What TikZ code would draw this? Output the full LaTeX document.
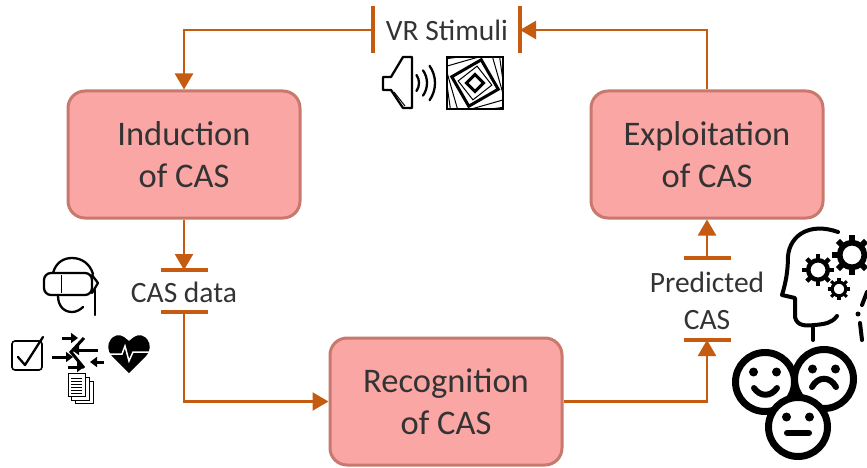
\documentclass[tikz,border=0pt]{standalone}
\usepackage{fontspec}
\setmainfont{Carlito}
\usetikzlibrary{arrows.meta}
\definecolor{boxfill}{HTML}{FAA6A5}
\definecolor{boxline}{HTML}{C8786C}
\definecolor{linkcol}{HTML}{C55A11}
\definecolor{textcol}{HTML}{333333}
\tikzset{
    casbox/.style={draw=boxline, line width=3pt, fill=boxfill, rounded corners=17pt, minimum width=232pt, minimum height=127pt, align=center, text=textcol, font=\fontsize{34.5}{42}\selectfont, inner sep=0pt},
    label/.style={text=textcol, font=\fontsize{29.5}{37}\selectfont, align=center, inner sep=0pt},
    hbar/.style={fill=linkcol, minimum width=47pt, minimum height=3.5pt, inner sep=0pt},
    vbar/.style={fill=linkcol, minimum width=3.5pt, minimum height=47pt, inner sep=0pt},
    link/.style={draw=linkcol, line width=2.5pt},
    arrowlink/.style={link, -{Triangle[length=16pt,width=18pt]}},
    icon/.style={line width=2.3pt, line cap=round, line join=round},
    small arrow/.style={line width=3pt, -{Triangle[length=7pt,width=10pt]}}
}
\newcommand{\gearicon}[3]{% x, y, radius
    \foreach \a in {0,45,...,315} {
        \draw[line width=#3*0.3pt] (#1,#2) ++(\a:#3*0.75) -- ++(\a:#3*0.3);
    }
    \draw[line width=#3*0.3pt] (#1,#2) circle (#3*0.65);
}
\newcommand{\faceicon}[2]{% x, y
    \draw[line width=7pt, fill=white] (#1,#2) circle (29.5);
    \fill (#1-11.5,#2-10) circle (4.5);
    \fill (#1+11.5,#2-10) circle (4.5);
}
\begin{document}
\begin{tikzpicture}[x=1pt,y=-1pt]
    \useasboundingbox (0,0) rectangle (867,468);

    % main boxes
    \node[casbox] (induction) at (184,154.5) {Induction\\of CAS};
    \node[casbox] (exploitation) at (707,154.5) {Exploitation\\of CAS};
    \node[casbox] (recognition) at (446,401.5) {Recognition\\of CAS};

    % labels and their bars
    \node[label] (vrstimuli) at (447,30) {VR Stimuli};
    \node[vbar] (vrbarleft) at (373,30) {};
    \node[vbar] (vrbarright) at (520,30) {};
    \node[label] (casdata) at (184,292) {CAS data};
    \node[hbar] (casbartop) at (184,270) {};
    \node[hbar] (casbarbottom) at (184,312) {};
    \node[label] (predicted) at (707,301) {Predicted\\CAS};
    \node[hbar] (predbartop) at (707,258) {};
    \node[hbar] (predbarbottom) at (707,340) {};

    % connectors
    \draw[arrowlink] (vrbarleft.center) -| (induction.north);
    \draw[arrowlink] (exploitation.north) |- (vrbarright.center);
    \draw[arrowlink] (induction.south) -- (casbartop.center);
    \draw[arrowlink] (casbarbottom.center) |- (recognition.west);
    \draw[arrowlink] (recognition.east) -| (predbarbottom.center);
    \draw[arrowlink] (predbartop.center) -- (exploitation.south);

    % speaker
    \draw[icon] (391,77) -- (383,77) -- (383,90) -- (391,90) -- (403,108) -- (412,108) -- (412,57) -- (403,57) -- cycle;
    \draw[line width=1pt] (394,92) -- (405,106);
    \foreach \r in {14,22,30} {
        \draw[icon] (405,83) ++(-35:\r) arc (-35:35:\r);
    }

    % nested squares
    \begin{scope}
        \clip (447,57) rectangle (503,109);
        \draw[line width=1pt, rotate around={8:(475,83)}] (447,55) rectangle (503,111);
        \draw[line width=1pt, rotate around={16:(475,83)}] (451,59) rectangle (499,107);
    \end{scope}
    \draw[line width=2.8pt] (447,57) rectangle (503,109);
    \draw[line width=3pt, rotate around={30:(475,83)}] (458,66) rectangle (492,100);
    \draw[line width=1pt, rotate around={38:(475,83)}] (463,71) rectangle (487,95);
    \draw[line width=3pt, rotate around={45:(475,83)}] (469,77) rectangle (481,89);

    % headset
    \draw[icon] (53,273) .. controls (56,262) and (64,258) .. (72,258) .. controls (82,258) and (90,264) .. (93,274);
    \draw[icon, rounded corners=7pt] (44,273) -- (92,273) -- (92,295) -- (44,295) -- cycle;
    \draw[icon] (92,275) -- (98,283) -- (92,293);
    \draw[line width=1pt] (61,275) -- (61,293);
    \draw[icon] (95,290) -- (95,315);
    \draw[icon] (58,296) .. controls (58,306) and (64,312) .. (72,312) .. controls (76,312) and (80,310) .. (83,307);

    % checkbox
    \draw[line width=1.6pt, rounded corners=3pt] (12,341) rectangle (42,370);
    \draw[icon] (18,357) -- (25,365) -- (43,337);

    % arrows
    \draw[small arrow] (62,338) -- (78,338);
    \draw[small arrow] (98,350) -- (72,350);
    \draw[small arrow] (52,357) -- (73,357);
    \draw[small arrow] (104,362) -- (90,362);
    \draw[small arrow] (68,367) -- (84,367);
    \draw[line width=3pt] (84,338) -- (71,352) -- (84,368);

    % heart
    \fill (129,373) -- (112,356) .. controls (102,345) and (114,330) .. (124,337) -- (129,341) -- (134,337) .. controls (144,330) and (156,345) .. (146,356) -- cycle;
    \draw[white, line width=1.5pt] (108,354) -- (122,354) -- (125,346) -- (129,361) -- (133,352) -- (150,352);

    % documents
    \draw[line width=0.8pt, fill=white] (75,381) rectangle (93,403);
    \draw[line width=0.8pt, fill=white] (71,377) rectangle (89,400);
    \draw[line width=0.8pt, fill=white] (68,373) rectangle (85,396);
    \foreach \y in {378,381,...,393} {
        \draw[line width=0.7pt] (71,\y) -- (82,\y);
    }

    % head with gears
    \draw[line width=4pt, line cap=round, line join=round] (838,232) .. controls (810,222) and (790,235) .. (788,256) .. controls (788,270) and (786,282) .. (782,295) -- (795,298) -- (795,317) .. controls (797,326) and (805,326) .. (815,325) .. controls (825,324) and (832,323) .. (837,316);
    \draw[line width=4pt, line cap=round] (813,328) -- (813,340);
    \draw[line width=4pt, line cap=round] (860,323) -- (862,340);
    \draw[line width=4pt, line cap=round] (867,292) -- (862,305);
    \fill (858,314) circle (2.5);
    \gearicon{852}{255}{19}
    \gearicon{818}{270}{15}
    \gearicon{839}{289}{10.5}

    % faces
    \faceicon{765}{382}
    \draw[line width=6pt, line cap=round] (754,388) .. controls (760,397) and (771,397) .. (777,388);
    \faceicon{824}{379}
    \draw[line width=6pt, line cap=round] (812,387) .. controls (818,376) and (830,376) .. (836,387);
    \faceicon{798}{427}
    \draw[line width=6pt, line cap=round] (787,433) -- (809,433);
\end{tikzpicture}
\end{document}
